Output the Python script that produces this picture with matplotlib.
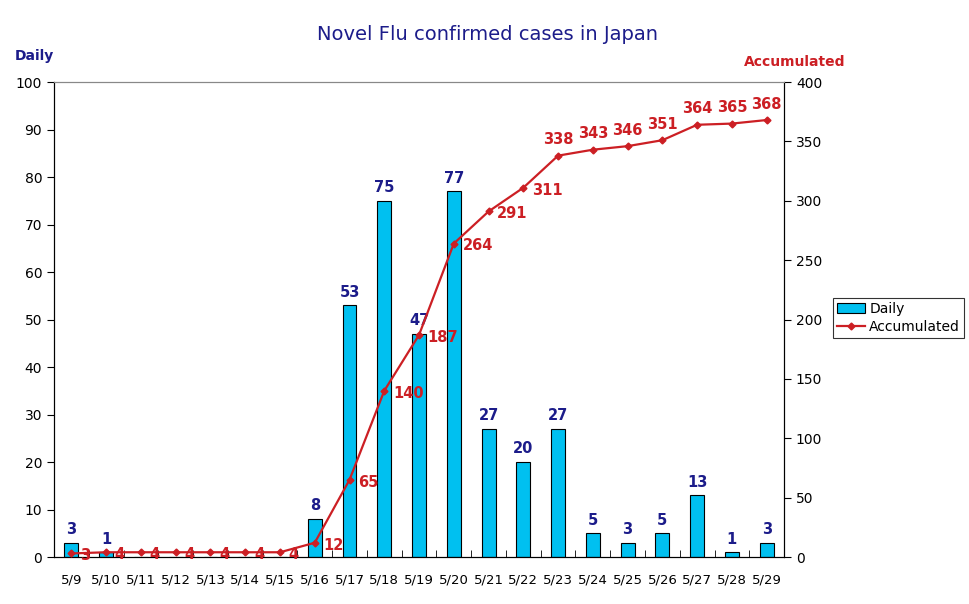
import matplotlib.pyplot as plt
import numpy as np

dates = ["5/9", "5/10", "5/11", "5/12", "5/13", "5/14", "5/15", "5/16", "5/17", "5/18",
         "5/19", "5/20", "5/21", "5/22", "5/23", "5/24", "5/25", "5/26", "5/27", "5/28", "5/29"]
daily = [3, 1, 0, 0, 0, 0, 0, 8, 53, 75, 47, 77, 27, 20, 27, 5, 3, 5, 13, 1, 3]
accum = [3, 4, 4, 4, 4, 4, 4, 12, 65, 140, 187, 264, 291, 311, 338, 343, 346, 351, 364, 365, 368]

navy = "#1c1c8a"
red = "#cc1f24"
cyan = "#00c0f0"

fig = plt.figure(figsize=(9.7, 6.04), dpi=100)
ax = fig.add_axes([0.0557, 0.0778, 0.7526, 0.7864])
ax2 = ax.twinx()

x = np.arange(len(dates))
bars = ax.bar(x, daily, width=0.4, color=cyan, edgecolor="black", linewidth=0.8, label="Daily", zorder=2)
for xi, v in zip(x, daily):
    if v > 0:
        ax.text(xi, v + 1.2, str(v), ha="center", va="bottom", color=navy,
                fontsize=10.5, fontweight="bold")

ax.set_xlim(-0.5, len(dates) - 0.5)
ax.set_ylim(0, 100)
ax.set_yticks(range(0, 101, 10))
ax.set_xticks(x)
ax.set_xticklabels(dates, fontsize=9.5)
ax.set_xticks(np.arange(-0.5, len(dates), 1.0), minor=True)
ax.tick_params(axis="x", which="major", length=0, pad=12)
ax.tick_params(axis="x", which="minor", direction="in", length=5)
ax.tick_params(axis="y", labelsize=10, direction="out", length=5)
ax.spines["top"].set_color("#888888")

line, = ax2.plot(x, accum, color=red, linewidth=1.6, marker="D", markersize=3.5,
                 label="Accumulated", zorder=3)
for i, (xi, v) in enumerate(zip(x, accum)):
    if i >= 14:
        ax2.text(xi, v + 7, str(v), ha="center", va="bottom", color=red,
                 fontsize=10.5, fontweight="bold")
    else:
        ax2.text(xi + 0.25, v - 2, str(v), ha="left", va="center", color=red,
                 fontsize=10.5, fontweight="bold")
ax2.set_ylim(0, 400)
ax2.set_yticks(range(0, 401, 50))
ax2.tick_params(axis="y", labelsize=10, direction="out", length=5)
ax2.spines["top"].set_color("#888888")

ax.set_zorder(ax2.get_zorder() - 1)
ax.patch.set_visible(False)

fig.text(0.503, 0.943, "Novel Flu confirmed cases in Japan", ha="center", va="center",
         color=navy, fontsize=14)
fig.text(0.015, 0.907, "Daily", ha="left", va="center", color=navy,
         fontsize=10, fontweight="bold")
fig.text(0.872, 0.897, "Accumulated", ha="right", va="center", color=red,
         fontsize=10, fontweight="bold")

leg = fig.legend([bars, line], ["Daily", "Accumulated"], loc="upper left",
                 bbox_to_anchor=(0.859, 0.507), frameon=True, fancybox=False,
                 edgecolor="black", fontsize=10, borderpad=0.3, labelspacing=0.3,
                 handlelength=2.0, handletextpad=0.3, borderaxespad=0)
leg.get_frame().set_linewidth(0.8)

fig.savefig("out.png", dpi=100)
